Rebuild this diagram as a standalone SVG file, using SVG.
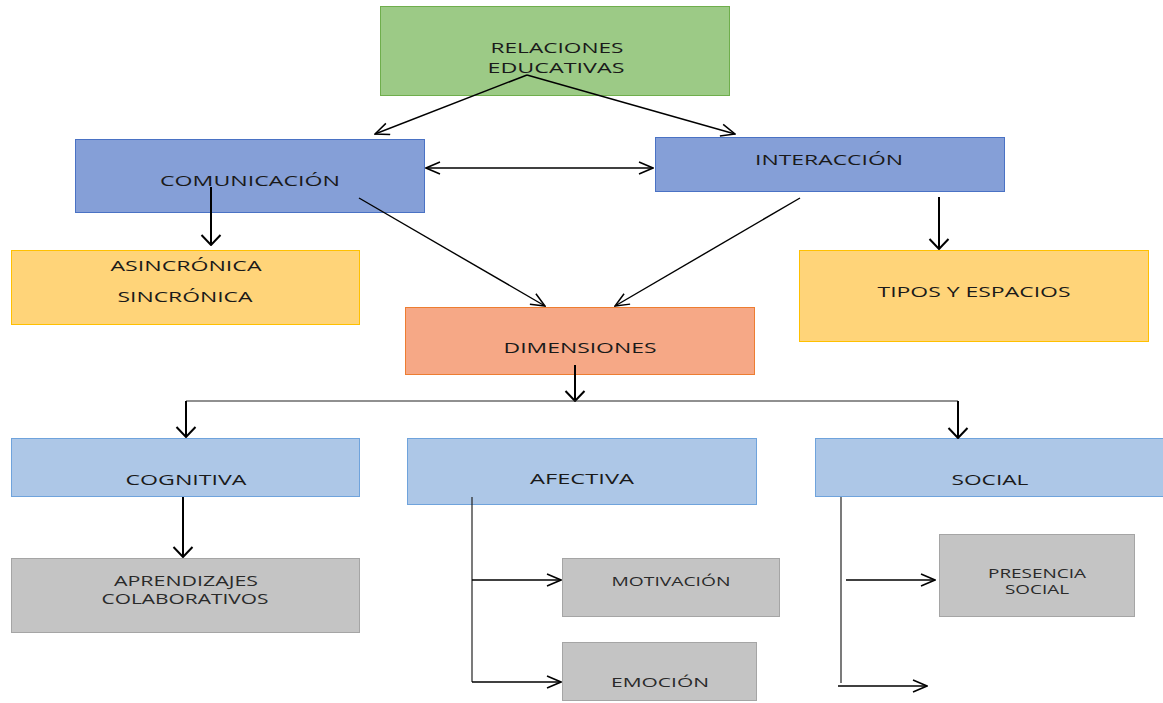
<svg xmlns="http://www.w3.org/2000/svg" width="1163" height="703" viewBox="0 0 1163 703">
<defs>
<marker id="ah" viewBox="0 0 16 14" refX="15" refY="7" markerWidth="16" markerHeight="14" markerUnits="userSpaceOnUse" orient="auto-start-reverse">
<path d="M1,1 L15,7 L1,13" fill="none" stroke="#000" stroke-width="1.5"/>
</marker>
<marker id="ahw" viewBox="0 0 12 22" refX="11" refY="11" markerWidth="12" markerHeight="22" markerUnits="userSpaceOnUse" orient="auto-start-reverse">
<path d="M1,1.5 L11,11 L1,20.5" fill="none" stroke="#000" stroke-width="2"/>
</marker>
<style>
text{font-family:"Open Sans","DejaVu Sans",sans-serif;fill:#1a1a1a;text-anchor:middle}
.t15{font-size:15px}
.t14{font-size:14px;fill:#2a2a2a}
.t13{font-size:13px;fill:#2a2a2a}
.t12{font-size:12.5px;fill:#2a2a2a}
.green{fill:#9cca86;stroke:#6fae4c;stroke-width:1}
.dblue{fill:#859fd7;stroke:#4a72c4;stroke-width:1}
.yellow{fill:#ffd479;stroke:#ffc000;stroke-width:1}
.salmon{fill:#f6a886;stroke:#ed7d31;stroke-width:1}
.lblue{fill:#adc7e7;stroke:#6fa3dc;stroke-width:1}
.gray{fill:#c4c4c4;stroke:#a5a5a5;stroke-width:1}
.c{fill:none;stroke:#000;stroke-width:1.4}
.c2{fill:none;stroke:#000;stroke-width:2}
.ln{fill:none;stroke:#222;stroke-width:1.2}
</style>
</defs>
<g id="relaciones">
<rect class="green" x="380.5" y="6.5" width="349" height="89"/>
<text class="t15" x="557" y="53" textLength="133" lengthAdjust="spacingAndGlyphs">RELACIONES</text>
<text class="t15" x="556" y="73" textLength="137" lengthAdjust="spacingAndGlyphs">EDUCATIVAS</text>
</g>
<g id="comunicacion">
<rect class="dblue" x="75.5" y="139.5" width="349" height="73"/>
<text class="t15" x="250" y="186" textLength="180" lengthAdjust="spacingAndGlyphs">COMUNICACIÓN</text>
</g>
<g id="interaccion">
<rect class="dblue" x="655.5" y="137.5" width="349" height="54"/>
<text class="t15" x="829" y="165" textLength="148" lengthAdjust="spacingAndGlyphs">INTERACCIÓN</text>
</g>
<g id="asincronica">
<rect class="yellow" x="11.5" y="250.5" width="348" height="74"/>
<text class="t15" x="186" y="271" textLength="151" lengthAdjust="spacingAndGlyphs">ASINCRÓNICA</text>
<text class="t15" x="185" y="302" textLength="135" lengthAdjust="spacingAndGlyphs">SINCRÓNICA</text>
</g>
<g id="tipos">
<rect class="yellow" x="799.5" y="250.5" width="349" height="91"/>
<text class="t15" x="974" y="297" textLength="193" lengthAdjust="spacingAndGlyphs">TIPOS Y ESPACIOS</text>
</g>
<g id="dimensiones">
<rect class="salmon" x="405.5" y="307.5" width="349" height="67"/>
<text class="t15" x="580" y="353" textLength="153" lengthAdjust="spacingAndGlyphs">DIMENSIONES</text>
</g>
<g id="cognitiva">
<rect class="lblue" x="11.5" y="438.5" width="348" height="58"/>
<text class="t15" x="186" y="485" textLength="121" lengthAdjust="spacingAndGlyphs">COGNITIVA</text>
</g>
<g id="afectiva">
<rect class="lblue" x="407.5" y="438.5" width="349" height="66"/>
<text class="t15" x="582" y="484" textLength="104" lengthAdjust="spacingAndGlyphs">AFECTIVA</text>
</g>
<g id="social">
<rect class="lblue" x="815.5" y="438.5" width="349" height="58"/>
<text class="t15" x="990" y="485" textLength="77" lengthAdjust="spacingAndGlyphs">SOCIAL</text>
</g>
<g id="aprendizajes">
<rect class="gray" x="11.5" y="558.5" width="348" height="74"/>
<text class="t14" x="186" y="586" textLength="144" lengthAdjust="spacingAndGlyphs">APRENDIZAJES</text>
<text class="t14" x="185" y="604" textLength="167" lengthAdjust="spacingAndGlyphs">COLABORATIVOS</text>
</g>
<g id="motivacion">
<rect class="gray" x="562.5" y="558.5" width="217" height="58"/>
<text class="t13" x="671" y="586" textLength="119" lengthAdjust="spacingAndGlyphs">MOTIVACIÓN</text>
</g>
<g id="emocion">
<rect class="gray" x="562.5" y="642.5" width="194" height="58"/>
<text class="t13" x="660" y="687" textLength="98" lengthAdjust="spacingAndGlyphs">EMOCIÓN</text>
</g>
<g id="presencia">
<rect class="gray" x="939.5" y="534.5" width="195" height="82"/>
<text class="t12" x="1037" y="578" textLength="98" lengthAdjust="spacingAndGlyphs">PRESENCIA</text>
<text class="t12" x="1037" y="594" textLength="64" lengthAdjust="spacingAndGlyphs">SOCIAL</text>
</g>
<g id="connectors">
<path class="c" d="M527,75 L375,134" marker-end="url(#ah)"/>
<path class="c" d="M527,75 L735,134" marker-end="url(#ah)"/>
<path class="c" d="M426,168 L653,168" marker-start="url(#ah)" marker-end="url(#ah)"/>
<path class="c2" d="M211,187 L211,245" marker-end="url(#ahw)"/>
<path class="c2" d="M939,197 L939,249" marker-end="url(#ahw)"/>
<path class="c" d="M359,198 L545,306" marker-end="url(#ah)"/>
<path class="c" d="M800,198 L615,306" marker-end="url(#ah)"/>
<path class="c2" d="M575,365 L575,401" marker-end="url(#ahw)"/>
<path class="ln" d="M186,401 L958,401"/>
<path class="c2" d="M186,401 L186,437" marker-end="url(#ahw)"/>
<path class="c2" d="M958,401 L958,438" marker-end="url(#ahw)"/>
<path class="c2" d="M183,497 L183,557" marker-end="url(#ahw)"/>
<path class="ln" d="M472,497 L472,682"/>
<path class="c" d="M472,580 L561,580" marker-end="url(#ah)"/>
<path class="c" d="M472,682 L561,682" marker-end="url(#ah)"/>
<path class="ln" d="M841,497 L841,683"/>
<path class="c" d="M846,580 L935,580" marker-end="url(#ah)"/>
<path class="c" d="M838,686 L927,686" marker-end="url(#ah)"/>
</g>
</svg>
